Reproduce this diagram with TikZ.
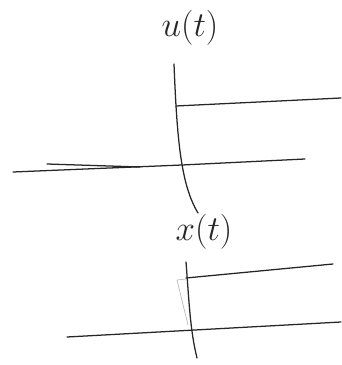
\documentclass[tikz,border=0pt]{standalone}
\begin{document}
\begin{tikzpicture}[x=0.025cm,y=-0.025cm,line width=0.9pt,line cap=round,
  sketch/.style={draw=black!85},
  lbl/.style={text=black!85,font=\fontsize{26}{28}\selectfont}]
\useasboundingbox (0,0) rectangle (341,365);
% input
\node[lbl] (ulabel) at (190,28) {$u(t)$};
\draw[sketch] (174,64) .. controls (177,140) and (181,185) .. (198,213);
\draw[sketch] (176,106)--(341,98);
\draw[sketch] (13,172)--(182,165)--(305,159);
\draw[sketch] (47,164)--(140,167);

% output
\node[lbl] (xlabel) at (204,232) {$x(t)$};
\draw[sketch] (186,262) .. controls (189,300) and (190,330) .. (197,358);
\draw[gray!55,line width=0.5pt] (186,279)--(177,280)--(188,325);
\draw[sketch] (186,278)--(333,264);
\draw[sketch] (67,337)--(341,322);
\end{tikzpicture}
\end{document}
